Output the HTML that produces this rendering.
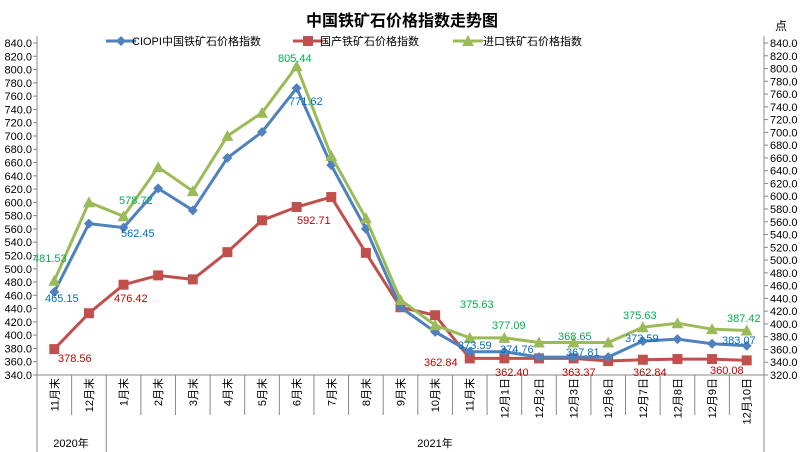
<!DOCTYPE html><html><head><meta charset="utf-8"><style>body{margin:0;background:#fff}svg{display:block;font-family:"Liberation Sans","Noto Sans CJK SC",sans-serif}</style></head><body>
<svg width="804" height="452" xmlns="http://www.w3.org/2000/svg" id="s"></svg>
<script>
const s=document.getElementById('s');let h='';
const X0=37,X1=764,W=(X1-X0)/21,yL=v=>375-(v-340)*0.664;
h+=`<text x="402" y="26" font-size="16" font-weight="bold" text-anchor="middle" font-family="Noto Sans CJK SC,sans-serif">中国铁矿石价格指数走势图</text>`;
h+=`<text x="775" y="30" font-size="12">点</text>`;
h+=`<line x1="${X0}" y1="36" x2="${X0}" y2="452" stroke="#888"/><line x1="${X1}" y1="36" x2="${X1}" y2="452" stroke="#888"/><line x1="${X0}" y1="375" x2="${X1}" y2="375" stroke="#888"/>`;
for(let v=340;v<=840;v+=20){let y=yL(v);h+=`<line x1="33" x2="${X0}" y1="${y}" y2="${y}" stroke="#888"/><text x="32" y="${y+4}" font-size="11" text-anchor="end">${v.toFixed(1)}</text>`;}
for(let i=0;i<=26;i++){let v=320+i*20,y=375-i*332/26;h+=`<line x1="${X1}" x2="${X1+4}" y1="${y}" y2="${y}" stroke="#888"/><text x="${X1+6}" y="${y+4}" font-size="11">${v.toFixed(1)}</text>`;}
const cats=["11月末","12月末","1月末","2月末","3月末","4月末","5月末","6月末","7月末","8月末","9月末","10月末","11月末","12月1日","12月2日","12月3日","12月6日","12月7日","12月8日","12月9日","12月10日"];
cats.forEach((c,i)=>{let x=X0+W*(i+1);h+=`<line x1="${x}" x2="${x}" y1="375" y2="${(i==1||i==20)?452:415}" stroke="#888"/>`;let cx=X0+W*(i+.5);h+=`<text transform="translate(${cx+4},378) rotate(-90)" font-size="11" text-anchor="end">${c}</text>`;});
h+=`<text x="71" y="447" font-size="11" text-anchor="middle">2020年</text><text x="435" y="447" font-size="11" text-anchor="middle">2021年</text>`;
const B=[465,568,562,621,588,667,706,772,656,560,442,405,375,375,367,367,367,391,394,387,384];
const R=[379,433,476,490,484,525,573,593,608,524,442,430,365,365,365,365,361,363,364,364,362];
const G=[482,600,579,653,617,700,735,805,670,576,453,415,396,396,389,389,389,412,418,409,407];
function ser(d,col,mk){let p=d.map((v,i)=>`${X0+W*(i+.5)},${yL(v)}`).join(' ');h+=`<polyline points="${p}" fill="none" stroke="${col}" stroke-width="3"/>`;d.forEach((v,i)=>{let x=X0+W*(i+.5),y=yL(v);h+=mk(x,y);});}
const dia=c=>(x,y)=>`<polygon points="${x},${y-5} ${x+5},${y} ${x},${y+5} ${x-5},${y}" fill="${c}"/>`;
const sq=c=>(x,y)=>`<rect x="${x-5}" y="${y-5}" width="10" height="10" fill="${c}"/>`;
const tri=c=>(x,y)=>`<polygon points="${x},${y-6} ${x+6},${y+5} ${x-6},${y+5}" fill="${c}"/>`;
ser(R,'#c0504d',sq('#c0504d'));ser(B,'#4f81bd',dia('#4f81bd'));ser(G,'#9bbb59',tri('#9bbb59'));
const L=(x,y,t,c)=>h+=`<text x="${x}" y="${y}" font-size="11" fill="${c}">${t}</text>`;
const g='#00b050',b='#0070c0',r='#c00000';
L(33,262,'481.53',g);L(119,204,'578.72',g);L(278,62,'805.44',g);L(460,308,'375.63',g);L(492,329,'377.09',g);L(558,340,'368.65',g);L(623,319,'375.63',g);L(727,322,'387.42',g);
L(45,302,'465.15',b);L(121,237,'562.45',b);L(289,105,'771.62',b);L(458,349,'373.59',b);L(500,353,'374.76',b);L(566,356,'367.81',b);L(625,342,'373.59',b);L(722,344,'383.07',b);
L(58,362,'378.56',r);L(114,302,'476.42',r);L(297,224,'592.71',r);L(424,366,'362.84',r);L(495,376,'362.40',r);L(562,376,'363.37',r);L(633,376,'362.84',r);L(710,374,'360.08',r);
h+=`<line x1="106" x2="136" y1="41" y2="41" stroke="#4f81bd" stroke-width="3"/>`+dia('#4f81bd')(121,41)+`<text x="132" y="45" font-size="11">CIOPI中国铁矿石价格指数</text>`;
h+=`<line x1="293" x2="323" y1="41" y2="41" stroke="#c0504d" stroke-width="3"/>`+sq('#c0504d')(308,41)+`<text x="320" y="45" font-size="11">国产铁矿石价格指数</text>`;
h+=`<line x1="453" x2="483" y1="41" y2="41" stroke="#9bbb59" stroke-width="3"/>`+tri('#9bbb59')(468,41)+`<text x="483" y="45" font-size="11">进口铁矿石价格指数</text>`;
s.innerHTML=h;
</script></body></html>
